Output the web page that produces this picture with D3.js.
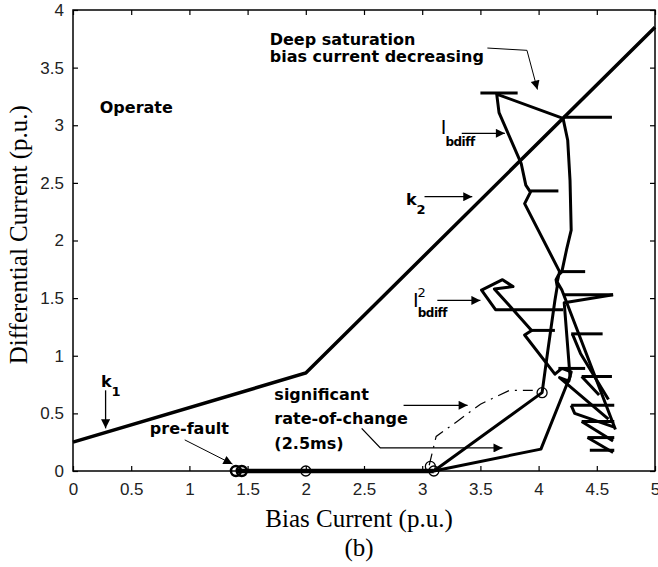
<!DOCTYPE html>
<html>
<head>
<style>
body {margin:0; background:#fff;}
svg {display:block;}
.tick text {font-family:"Liberation Sans", Arial, sans-serif; font-size:17px; fill:#222;}
.ann {font-family:"DejaVu Sans", Verdana, sans-serif; font-weight:bold; font-size:16px; fill:#000;}
.lab {font-family:"Liberation Serif", "Times New Roman", serif; font-size:25px; fill:#000;}
</style>
<script src="https://cdn.jsdelivr.net/npm/d3@7"></script>
</head>
<body>
<div id="chart"></div>
<script>
// axis ticks
var xTicks = [0, 0.5, 1, 1.5, 2, 2.5, 3, 3.5, 4, 4.5, 5]
var yTicks = [0, 0.5, 1, 1.5, 2, 2.5, 3, 3.5, 4]

// restraint characteristic (k1 then k2 slope)
var charX = [0, 2, 5]
var charY = [0.25, 0.85, 3.85]

// I_bdiff trajectory
var pathA = [[3.1,0],[4.03,0.68],[4.08,1.05],[4.14,1.48],[4.16,1.6],[4.15,1.66],[4.17,1.7],[4.2,1.73],
  [4.24,1.92],[4.28,2.09],[4.27,2.52],[4.25,2.87],[4.21,3.06],[3.64,3.27],[3.66,3.11],[3.85,2.67],
  [3.89,2.48],[3.93,2.42],[3.88,2.32],[4.18,1.73],[4.16,1.64],[4.2,1.57],[4.66,0.36]]

// I2_bdiff trajectory
var pathB1 = [[3.1,0],[4.02,0.19],[4.27,0.82],[4.22,1.46],[4.64,1.53]]
var pathB2 = [[4.21,1.4],[3.63,1.4],[3.51,1.57],[3.69,1.66],[3.78,1.6],[3.62,1.58],[3.94,1.22],[3.88,1.18],
  [4.14,0.84],[4.2,0.89],[4.28,0.86],[4.26,0.78],[4.18,0.81],[4.6,0.45]]
var zigzags = [
  [[4.29,1.19],[4.36,1.02],[4.6,0.62]],
  [[4.37,0.82],[4.52,0.66]],
  [[4.28,0.57],[4.31,0.5],[4.65,0.38]],
  [[4.37,0.43],[4.64,0.26]],
  [[4.42,0.29],[4.64,0.16]]
]
// short horizontal strokes: [y, x1, x2]
var whiskers = [[3.28,3.5,3.82],[3.07,4.21,4.63],[2.43,3.93,4.17],[1.73,4.19,4.4],[1.53,4.21,4.64],
  [1.22,3.93,4.14],[1.19,4.28,4.55],[0.89,4.17,4.4],[0.82,4.37,4.63],[0.57,4.28,4.65],
  [0.43,4.37,4.65],[0.29,4.42,4.65],[0.18,4.44,4.65]]

// pre-fault steady points
var faultX = [1.4, 3.1]
var circles = [[1.4,0],[1.45,0],[2,0],[3.1,0],[3.07,0.04],[4.03,0.68]]

// rate-of-change threshold (dash-dot)
var rocPath = [[3.06,0.05],[3.12,0.3],[3.3,0.43],[3.5,0.58],[3.75,0.7],[3.95,0.7]]

var width = 658, height = 567
var margin = {left:73, right:3, top:10, bottom:96}

var svg = d3.select("#chart").append("svg")
  .attr("width", width).attr("height", height)

var x = d3.scaleLinear().domain([0,5]).range([margin.left, width - margin.right])
var y = d3.scaleLinear().domain([0,4]).range([height - margin.bottom, margin.top])

var defs = svg.append("defs")
defs.append("marker").attr("id","ah")
  .attr("viewBox","0 0 10 10").attr("refX",10).attr("refY",5)
  .attr("markerWidth",12).attr("markerHeight",9).attr("markerUnits","userSpaceOnUse")
  .attr("orient","auto")
  .append("path").attr("d","M0,0L10,5L0,10z").attr("fill","#000")

// frame + ticks
var g = svg.append("g")
g.append("rect").attr("x", x(0)).attr("y", y(4))
  .attr("width", x(5)-x(0)).attr("height", y(0)-y(4))
  .attr("fill","none").attr("stroke","#000").attr("stroke-width",1.5)

g.append("g").attr("transform","translate(0,"+y(0)+")")
  .call(d3.axisBottom(x).tickValues(xTicks).tickSize(-5).tickPadding(12).tickFormat(d3.format("")))
g.append("g").attr("transform","translate(0,"+y(4)+")")
  .call(d3.axisTop(x).tickValues(xTicks).tickSize(-5).tickFormat(""))
g.append("g").attr("transform","translate("+x(0)+",0)")
  .call(d3.axisLeft(y).tickValues(yTicks).tickSize(-5).tickPadding(9).tickFormat(d3.format("")))
g.append("g").attr("transform","translate("+x(5)+",0)")
  .call(d3.axisRight(y).tickValues(yTicks).tickSize(-5).tickFormat(""))
g.selectAll(".domain").remove()
g.selectAll(".tick line").attr("stroke","#000").attr("stroke-width",1.2)

var line = d3.line().x(function(d){return x(d[0])}).y(function(d){return y(d[1])})

// characteristic
svg.append("path").datum(charX.map(function(v,i){return [v, charY[i]]}))
  .attr("d", line).attr("fill","none").attr("stroke","#000").attr("stroke-width",3.5)

// pre-fault thick segment
svg.append("path").datum(faultX.map(function(v){return [v,0]}))
  .attr("d", line).attr("fill","none").attr("stroke","#000").attr("stroke-width",4.5)

// trajectories
var traj = [pathA, pathB1, pathB2].concat(zigzags)
svg.selectAll(".traj").data(traj).enter().append("path")
  .attr("d", line).attr("fill","none").attr("stroke","#000")
  .attr("stroke-width",3).attr("stroke-linejoin","round")

svg.selectAll(".wh").data(whiskers).enter().append("line")
  .attr("x1",function(d){return x(d[1])}).attr("x2",function(d){return x(d[2])})
  .attr("y1",function(d){return y(d[0])}).attr("y2",function(d){return y(d[0])})
  .attr("stroke","#000").attr("stroke-width",3)

svg.append("path").datum(rocPath).attr("d", line)
  .attr("fill","none").attr("stroke","#000").attr("stroke-width",1.2)
  .attr("stroke-dasharray","12,6,2,6")

svg.selectAll(".pt").data(circles).enter().append("circle")
  .attr("cx",function(d){return x(d[0])}).attr("cy",function(d){return y(d[1])})
  .attr("r",5).attr("fill","none").attr("stroke","#000")
  .attr("stroke-width",function(d,i){return i < 2 ? 2.5 : 1.3})

// annotations
function arrow(pts, w){
  svg.append("path").datum(pts).attr("d", line).attr("fill","none")
    .attr("stroke","#000").attr("stroke-width", w || 1.3).attr("marker-end","url(#ah)")
}
function txt(px, py, s){
  return svg.append("text").attr("class","ann").attr("x", x(px)).attr("y", y(py)).text(s)
}
txt(0.23, 3.11, "Operate")
txt(1.69, 3.70, "Deep saturation")
txt(1.69, 3.545, "bias current decreasing")
arrow([[3.56,3.67],[3.9,3.65],[3.99,3.31]], 1)

// I_bdiff
var t1 = svg.append("text").attr("class","ann").attr("x", x(3.16)).attr("y", y(2.92))
t1.append("tspan").text("I").style("font-weight","normal").style("font-size","19px")
t1.append("tspan").text("bdiff").attr("dy",12).attr("dx",-1).style("font-size","12px").style("letter-spacing","-0.5px")
arrow([[3.34,2.93],[3.71,2.93]])

// k2
var t2 = txt(2.86, 2.31, "k")
t2.append("tspan").text("2").attr("dy",9).style("font-size","13px")
arrow([[3.02,2.38],[3.43,2.38]])

// I2_bdiff
var t3 = svg.append("text").attr("class","ann").attr("x", x(2.92)).attr("y", y(1.42))
t3.append("tspan").text("I").style("font-weight","normal").style("font-size","19px")
t3.append("tspan").text("2").attr("dy",-10).attr("dx",-1).style("font-size","13px").style("font-weight","normal")
t3.append("tspan").text("bdiff").attr("dy",20).attr("dx",-8).style("font-size","12px").style("letter-spacing","-0.5px")
arrow([[3.13,1.48],[3.5,1.48]])

// k1
var t4 = txt(0.24, 0.73, "k")
t4.append("tspan").text("1").attr("dy",9).style("font-size","13px")
arrow([[0.28,0.70],[0.28,0.37]])

txt(0.66, 0.32, "pre-fault")
arrow([[0.96,0.27],[1.37,0.06]], 1)

txt(1.73, 0.62, "significant")
txt(1.73, 0.41, "rate-of-change")
txt(1.73, 0.19, "(2.5ms)")
arrow([[2.84,0.57],[3.39,0.57]])
arrow([[2.48,0.37],[2.64,0.2],[3.69,0.2]])

// axis labels
svg.append("text").attr("class","lab").attr("text-anchor","middle")
  .attr("x", x(2.5) - 5).attr("y", 527).text("Bias Current (p.u.)")
svg.append("text").attr("class","lab").attr("text-anchor","middle")
  .attr("x", x(2.5) - 5).attr("y", 556).text("(b)")
svg.append("text").attr("class","lab").attr("text-anchor","middle")
  .attr("transform","translate(27,"+ y(2.05) +") rotate(-90)").text("Differential Current (p.u.)")
</script>
</body>
</html>
